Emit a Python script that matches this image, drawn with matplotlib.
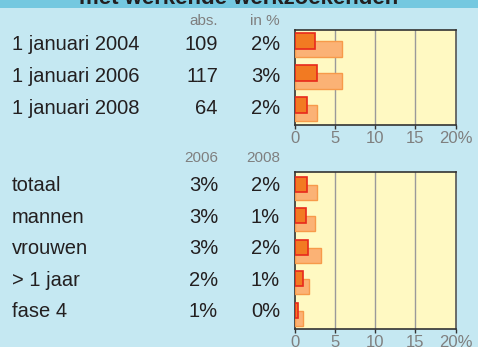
import matplotlib.pyplot as plt
import matplotlib.transforms as mtransforms
from matplotlib.patches import Rectangle

plt.rcParams['font.family'] = ['Liberation Sans', 'DejaVu Sans']

# bovenste blok: peildata
periods = ['1 januari 2004', '1 januari 2006', '1 januari 2008']
abs_counts = ['109', '117', '64']
period_pct = ['2%', '3%', '2%']
period_main = [2.5, 2.75, 1.55]
period_ref = [5.8, 5.8, 2.8]

# onderste blok: groepen, 2006 tegen 2008
groups = ['totaal', 'mannen', 'vrouwen', '> 1 jaar', 'fase 4']
pct_2006 = ['3%', '3%', '3%', '2%', '1%']
pct_2008 = ['2%', '1%', '2%', '1%', '0%']
group_2008 = [1.55, 1.4, 1.6, 0.96, 0.4]
group_2006 = [2.8, 2.5, 3.3, 1.8, 0.96]

xticks = [0, 5, 10, 15, 20]
xticklabels = ['0', '5', '10', '15', '20%']

BG = '#c5e8f2'
BAND = '#74c8e0'
PANEL = '#fff9c2'
DARK = '#f27a22'
DARK_EDGE = '#e8291c'
LIGHT = '#fbb275'
LIGHT_EDGE = '#f79a4a'
TEXT = '#231f20'
GREY = '#7f7f7f'

W, H = 478, 347
fig = plt.figure(figsize=(W / 100, H / 100), dpi=100, facecolor=BG)
fig.patches.append(Rectangle((0, 1 - 8 / H), 1, 8 / H, transform=fig.transFigure,
                             facecolor=BAND, edgecolor='none', zorder=0))
fig.text(0.5, 1 - 4 / H, 'met werkende werkzoekenden', ha='center', va='baseline',
         fontsize=16, fontweight='bold', color=TEXT)


def panel(rect, front, back, ylim, h, off):
    ax = fig.add_axes(rect, facecolor=PANEL)
    y = list(range(len(front)))
    ax.barh([v + off for v in y], back, height=h, color=LIGHT, edgecolor=LIGHT_EDGE,
            linewidth=1, zorder=3)
    ax.barh([v - off for v in y], front, height=h, color=DARK, edgecolor=DARK_EDGE,
            linewidth=1.2, zorder=4)
    ax.set_xlim(0, 20)
    ax.set_ylim(*ylim)
    ax.set_xticks(xticks)
    ax.set_xticklabels(xticklabels)
    ax.set_yticks([])
    for x in xticks[1:-1]:
        ax.axvline(x, color='#9a9a9a', linewidth=1, zorder=2)
    for s in ax.spines.values():
        s.set_color('#333333')
        s.set_linewidth(1.2)
    ax.spines['right'].set_color('#555555')
    ax.tick_params(axis='x', length=3, width=1, color='#333333', labelcolor=GREY,
                   labelsize=12, pad=1.5)
    return ax


ax1 = panel([295 / W, 1 - 125 / H, 160.5 / W, 95.5 / H], period_main, period_ref,
            (2.5, -0.48), 0.5, 0.125)
ax2 = panel([295 / W, 1 - 329 / H, 160.5 / W, 157 / H], group_2008, group_2006,
            (4.47, -0.51), 0.48, 0.127)


def rows(ax, labels, col1, col2, dy=0.0):
    tr = mtransforms.blended_transform_factory(fig.transFigure, ax.transData)
    for i, lab in enumerate(labels):
        fig.text(12 / W, i + dy, lab, transform=tr, ha='left', va='center',
                 fontsize=14.5, color=TEXT)
        fig.text(218 / W, i + dy, col1[i], transform=tr, ha='right', va='center',
                 fontsize=14.5, color=TEXT)
        fig.text(280 / W, i + dy, col2[i], transform=tr, ha='right', va='center',
                 fontsize=14.5, color=TEXT)


rows(ax1, periods, abs_counts, period_pct)
rows(ax2, groups, pct_2006, pct_2008, dy=-0.07)

for x, s in [(218, 'abs.'), (280, 'in %')]:
    fig.text(x / W, 1 - 21 / H, s, ha='right', va='center', fontsize=11, color=GREY)
for x, s in [(218, '2006'), (280, '2008')]:
    fig.text(x / W, 1 - 158 / H, s, ha='right', va='center', fontsize=11, color=GREY)

fig.savefig('out.png', dpi=100, facecolor=BG)
